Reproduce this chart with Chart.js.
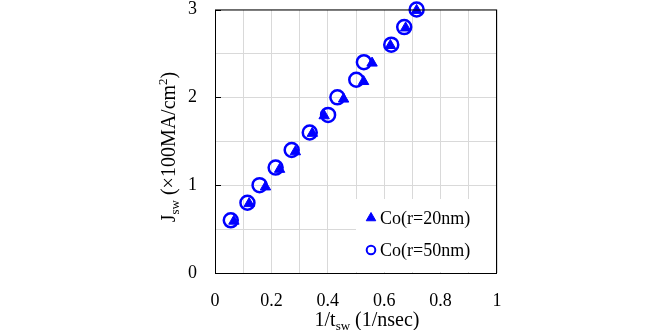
<!DOCTYPE html>
<html>
<head>
<meta charset="utf-8">
<script src="https://cdn.jsdelivr.net/npm/chart.js@4/dist/chart.umd.min.js"></script>
<style>
  html, body { margin: 0; padding: 0; background: #fff; }
  #wrap { width: 660px; height: 330px; position: relative; }
</style>
</head>
<body>
<div id="wrap"><canvas id="chartJsw" width="660" height="330"></canvas></div>
<script>
// switching current density vs inverse switching time

const seriesNames = ['Co(r=20nm)', 'Co(r=50nm)'];

const xTri = [0.067, 0.121, 0.179, 0.229, 0.285, 0.345, 0.387, 0.456, 0.527, 0.557, 0.622, 0.676, 0.715];
const yTri = [0.59, 0.79, 0.98, 1.18, 1.38, 1.59, 1.79, 1.98, 2.18, 2.39, 2.59, 2.79, 2.99];

const xCirc = [0.056, 0.115, 0.158, 0.215, 0.272, 0.336, 0.401, 0.434, 0.501, 0.528, 0.625, 0.671, 0.715];
const yCirc = [0.6, 0.8, 1.0, 1.2, 1.4, 1.6, 1.8, 2.0, 2.2, 2.4, 2.6, 2.8, 3.0];

const xTickLabels = [0, 0.2, 0.4, 0.6, 0.8, 1];
const yTickLabels = [0, 1, 2, 3];

const BLUE = '#0000ff';
const SERIF = "'Liberation Serif', 'Times New Roman', serif";

function pairs(xs, ys) {
  return xs.map((x, i) => ({ x, y: ys[i] }));
}

function near(list, v) {
  return list.some(t => Math.abs(t - v) < 1e-6);
}

// draws text made of parts with sub/superscripts, centred at (cx, cy)
function drawRich(ctx, parts, cx, cy) {
  let total = 0;
  parts.forEach(p => {
    ctx.font = p.size + 'px ' + SERIF;
    p.w = ctx.measureText(p.text).width;
    total += p.w;
  });
  let x = cx - total / 2;
  ctx.textAlign = 'left';
  ctx.textBaseline = 'alphabetic';
  parts.forEach(p => {
    ctx.font = p.size + 'px ' + SERIF;
    ctx.fillText(p.text, x, cy + 7 + (p.dy || 0));
    x += p.w;
  });
}

const framePlugin = {
  id: 'frame',
  beforeDatasetsDraw(chart) {
    const { ctx, chartArea: a } = chart;
    ctx.save();
    // legend box covers the grid
    ctx.fillStyle = '#fff';
    ctx.fillRect(356, 199, a.right - 357, a.bottom - 200);

    const P = Chart.helpers.drawPoint;
    const items = [
      { y: 218, opts: { pointStyle: 'triangle', radius: 5.5, rotation: 0, borderWidth: 1, borderColor: BLUE, backgroundColor: BLUE } },
      { y: 250, opts: { pointStyle: 'circle', radius: 4.3, rotation: 0, borderWidth: 2, borderColor: BLUE, backgroundColor: 'rgba(0,0,0,0)' } }
    ];
    items.forEach((it, i) => {
      ctx.fillStyle = it.opts.backgroundColor;
      ctx.strokeStyle = it.opts.borderColor;
      ctx.lineWidth = it.opts.borderWidth;
      P(ctx, it.opts, 371, it.y);
      ctx.fillStyle = '#000';
      ctx.font = '18px ' + SERIF;
      ctx.textAlign = 'left';
      ctx.textBaseline = 'middle';
      ctx.fillText(seriesNames[i], 380, it.y + 1);
    });
    ctx.restore();
  },
  afterDraw(chart) {
    const { ctx, chartArea: a, scales } = chart;
    ctx.save();
    ctx.strokeStyle = '#000';
    ctx.lineWidth = 1;
    ctx.strokeRect(a.left + 0.5, a.top + 0.5, a.right - a.left - 1, a.bottom - a.top);
    // inward tick marks on the y axis
    ctx.beginPath();
    yTickLabels.forEach(v => {
      const y = Math.round(scales.y.getPixelForValue(v)) + 0.5;
      ctx.moveTo(a.left, y);
      ctx.lineTo(a.left + 6, y);
    });
    ctx.stroke();

    ctx.fillStyle = '#000';
    drawRich(ctx, [
      { text: '1/t', size: 20 },
      { text: 'sw', size: 13, dy: 4 },
      { text: ' (1/nsec)', size: 20 }
    ], 367, 319);

    ctx.translate(168, 147);
    ctx.rotate(-Math.PI / 2);
    drawRich(ctx, [
      { text: 'J', size: 20 },
      { text: 'sw', size: 13, dy: 4 },
      { text: ' (\u00D7100MA/cm', size: 20 },
      { text: '2', size: 13, dy: -8 },
      { text: ')', size: 20 }
    ], 0, 0);
    ctx.restore();
  }
};

const chart = new Chart(document.getElementById('chartJsw').getContext('2d'), {
  type: 'scatter',
  data: {
    datasets: [
      {
        label: seriesNames[0],
        data: pairs(xTri, yTri),
        pointStyle: 'triangle',
        pointRadius: 6,
        pointBorderWidth: 1,
        borderColor: BLUE,
        backgroundColor: BLUE,
        clip: false
      },
      {
        label: seriesNames[1],
        data: pairs(xCirc, yCirc),
        pointStyle: 'circle',
        pointRadius: 7,
        pointBorderWidth: 2.5,
        borderColor: BLUE,
        backgroundColor: 'rgba(0,0,0,0)',
        clip: false
      }
    ]
  },
  options: {
    responsive: false,
    animation: false,
    layout: { padding: { left: 150, top: 0, right: 163, bottom: 0 } },
    plugins: {
      legend: { display: false },
      tooltip: { enabled: false }
    },
    scales: {
      x: {
        type: 'linear',
        min: 0,
        max: 1,
        afterFit(scale) { scale.height = 57; },
        grid: { color: '#d9d9d9', lineWidth: 1, drawTicks: false },
        border: { display: false },
        ticks: {
          stepSize: 0.1,
          padding: 17,
          color: '#000',
          font: { family: SERIF, size: 18 },
          maxRotation: 0,
          autoSkip: false,
          callback: v => near(xTickLabels, v) ? String(Number(v.toFixed(1))) : ''
        }
      },
      y: {
        type: 'linear',
        min: 0,
        max: 3,
        afterFit(scale) { scale.width = 65; scale.paddingTop = 0; },
        grid: { color: '#d9d9d9', lineWidth: 1, drawTicks: false },
        border: { display: false },
        ticks: {
          stepSize: 0.5,
          padding: 18,
          color: '#000',
          font: { family: SERIF, size: 18 },
          autoSkip: false,
          callback: v => near(yTickLabels, v) ? String(v) : ''
        }
      }
    }
  },
  plugins: [framePlugin]
});
</script>
</body>
</html>
